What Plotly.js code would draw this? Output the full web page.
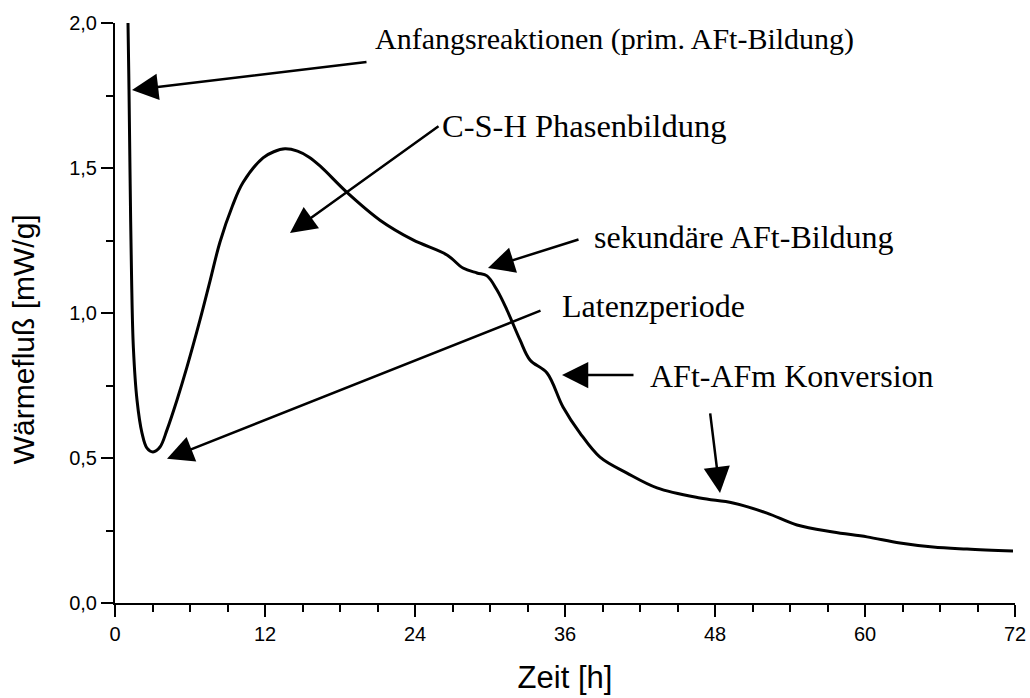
<!DOCTYPE html>
<html>
<head>
<meta charset="utf-8">
<script src="https://cdn.plot.ly/plotly-3.0.1.min.js"></script>
<style>html,body{margin:0;padding:0;background:#fff;}#chart{width:1030px;height:698px;}</style>
</head>
<body>
<div id="chart"></div>
<script>
// Zeit [h]
const zeit = [1.0, 1.04, 1.12, 1.2, 1.33, 1.47, 1.76, 2.16, 2.56, 3.04, 3.6, 4.16, 4.96, 5.76, 6.8, 7.6,
  8.4, 9.4, 10.24, 11.84, 12.7, 13.6, 14.6, 15.5, 16.4, 18.6, 21.2, 23.84, 26.56, 27.84, 28.96, 29.76, 30.56,
  31.36, 32.4, 33.2, 34.56, 35.84, 37.2, 38.8, 40.96, 43.36, 46.8, 49.44, 52.16, 54.56, 57.44,
  60.16, 62.8, 65.44, 68.16, 71.84];
// Wärmefluß [mW/g]
const waermefluss = [2.1, 2.0, 1.77, 1.49, 1.11, 0.88, 0.70, 0.586, 0.534, 0.521, 0.538, 0.597, 0.70, 0.814, 0.976, 1.11,
  1.245, 1.37, 1.45, 1.535, 1.556, 1.566, 1.558, 1.538, 1.507, 1.414, 1.32, 1.252, 1.2, 1.155, 1.138, 1.128, 1.079,
  1.01, 0.907, 0.838, 0.793, 0.676, 0.586, 0.503, 0.448, 0.397, 0.362, 0.345, 0.31, 0.269, 0.245,
  0.228, 0.207, 0.193, 0.186, 0.179];

const xTicks = [0, 12, 24, 36, 48, 60, 72];
const yTicks = [0, 0.5, 1.0, 1.5, 2.0];

// Beschriftungen
const labels = ["Anfangsreaktionen (prim. AFt-Bildung)", "C-S-H Phasenbildung", "sekundäre AFt-Bildung",
  "Latenzperiode", "AFt-AFm Konversion"];
const labelX = [20.64, 26.0, 38.16, 35.6, 42.64];
const labelY = [1.945, 1.645, 1.262, 1.024, 0.782];
const labelSize = [30, 32.5, 32, 32, 32];

// Pfeile: Spitze (x,y) und Ende (ax,ay)
const arrowX  = [1.36, 14.0, 29.84, 4.16, 35.76, 48.4];
const arrowY  = [1.769, 1.276, 1.155, 0.497, 0.786, 0.379];
const arrowAX = [20.24, 26.0, 37.2, 34.16, 41.6, 47.6];
const arrowAY = [1.866, 1.648, 1.255, 1.010, 0.786, 0.659];

const annotations = [];
labels.forEach((t, i) => {
  annotations.push({
    x: labelX[i], y: labelY[i], xref: 'x', yref: 'y', text: t, showarrow: false,
    xanchor: 'left', yanchor: 'middle',
    font: {family: 'Liberation Serif, Times New Roman, serif', size: labelSize[i], color: '#000'}
  });
});
arrowX.forEach((x, i) => {
  annotations.push({
    x: x, y: arrowY[i], xref: 'x', yref: 'y', axref: 'x', ayref: 'y',
    ax: arrowAX[i], ay: arrowAY[i], text: '', showarrow: true,
    arrowhead: 2, arrowsize: 2.1, arrowwidth: 2.5, arrowcolor: '#000', standoff: 0
  });
});
annotations.push({
  xref: 'paper', yref: 'paper', x: -0.102, y: 0.455, text: 'Wärmefluß [mW/g]',
  textangle: -90, showarrow: false, xanchor: 'center', yanchor: 'middle',
  font: {family: 'Liberation Sans, Arial, sans-serif', size: 30, color: '#000'}
});

const trace = {
  x: zeit, y: waermefluss, type: 'scatter', mode: 'lines',
  line: {color: '#000', width: 3, shape: 'spline', smoothing: 1.0},
  hoverinfo: 'skip'
};

const layout = {
  width: 1030, height: 698,
  margin: {l: 115, r: 15, t: 23, b: 95},
  paper_bgcolor: '#fff', plot_bgcolor: '#fff',
  separators: ',.',
  showlegend: false,
  font: {family: 'Liberation Sans, Arial, sans-serif', color: '#000'},
  xaxis: {
    range: [0, 72], tickvals: xTicks, ticktext: xTicks.map(String),
    showgrid: false, zeroline: false, showline: true, linecolor: '#000', linewidth: 2,
    ticks: 'outside', ticklen: 12, tickwidth: 2, tickcolor: '#000',
    minor: {dtick: 3, ticks: 'outside', ticklen: 7, tickwidth: 2, tickcolor: '#000', showgrid: false},
    tickfont: {size: 20, color: '#000'},
    title: {text: 'Zeit [h]', font: {size: 31, color: '#000'}, standoff: 22}
  },
  yaxis: {
    range: [0, 2], tickvals: yTicks, tickformat: '.1f',
    showgrid: false, zeroline: false, showline: true, linecolor: '#000', linewidth: 2,
    ticks: 'outside', ticklen: 12, tickwidth: 2, tickcolor: '#000',
    minor: {dtick: 0.25, ticks: 'outside', ticklen: 7, tickwidth: 2, tickcolor: '#000', showgrid: false},
    tickfont: {size: 20, color: '#000'}
  },
  annotations: annotations
};

Plotly.newPlot('chart', [trace], layout, {displayModeBar: false, staticPlot: true});
</script>
</body>
</html>
